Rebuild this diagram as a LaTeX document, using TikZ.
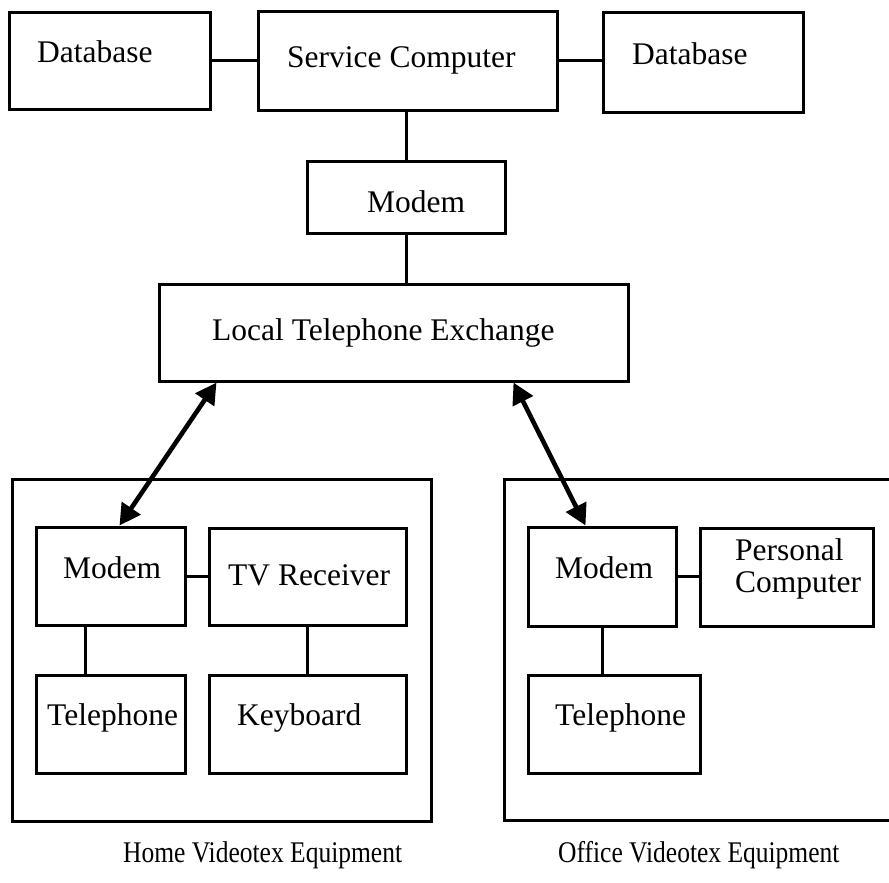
\documentclass[tikz,border=0pt]{standalone}
\usepackage{fontspec}
\setmainfont{Liberation Serif}
\usetikzlibrary{arrows.meta}

\begin{document}
\begin{tikzpicture}[x=1pt, y=-1pt,
  box/.style={draw, line width=3pt, rectangle, inner sep=0pt},
  frame/.style={draw, line width=3pt},
  wire/.style={line width=3pt},
  txt/.style={font=\fontsize{31.5pt}{32pt}\selectfont, inner sep=0pt, anchor=base west},
  caption/.style={font=\fontsize{30pt}{31pt}\selectfont, inner sep=0pt, anchor=base west, xscale=0.85},
  link/.style={line width=4.6pt, {Triangle[length=21pt,width=22pt]}-{Triangle[length=21pt,width=22pt]}}
]
\useasboundingbox (0,0) rectangle (889,883);

% --- host side ---
\node[box, minimum width=201pt, minimum height=97pt] (dbl) at (109.5,61) {};
\node[box, minimum width=299pt, minimum height=98pt] (sc) at (407.5,61) {};
\node[box, minimum width=200pt, minimum height=99pt] (dbr) at (703,62.5) {};
\node[box, minimum width=198pt, minimum height=72pt] (hostmodem) at (406,197) {};
\node[box, minimum width=469pt, minimum height=97pt] (lte) at (393.5,332.5) {};

\node[txt] (tdbl) at (37,63) {Database};
\node[txt] (tsc) at (287,67) {Service Computer};
\node[txt] (tdbr) at (632,65) {Database};
\node[txt] (thm) at (367,212) {Modem};
\node[txt] (tlte) at (212,340) {Local Telephone Exchange};

\draw[wire] (dbl.east) -- (dbl.east -| sc.west);
\draw[wire] (sc.east) -- (sc.east -| dbr.west);
\draw[wire] (hostmodem.north |- sc.south) -- (hostmodem.north);
\draw[wire] (hostmodem.south) -- (hostmodem.south |- lte.north);

% --- home equipment ---
\draw[frame] (12,479) rectangle (431,821);
\node[box, minimum width=149pt, minimum height=98pt] (hmodem) at (110.5,576) {};
\node[box, minimum width=197pt, minimum height=97pt] (tv) at (307.5,576.5) {};
\node[box, minimum width=149pt, minimum height=98pt] (htel) at (110.5,724) {};
\node[box, minimum width=197pt, minimum height=98pt] (kb) at (307.5,724) {};

\node[txt] (thmodem) at (63,578) {Modem};
\node[txt] (ttv) at (228,585) {TV Receiver};
\node[txt] (thtel) at (47,725) {Telephone};
\node[txt] (tkb) at (237,725) {Keyboard};

\draw[wire] (hmodem.east) -- (hmodem.east -| tv.west);
\coordinate (hmdrop) at ([xshift=51pt]hmodem.south west);
\draw[wire] (hmdrop) -- (hmdrop |- htel.north);
\draw[wire] (tv.south) -- (tv.south |- kb.north);

% --- office equipment (frame runs past the right edge) ---
\draw[frame] (895,479) -- (504,479) -- (504,820) -- (895,820);
\node[box, minimum width=148pt, minimum height=99pt] (omodem) at (602,576.5) {};
\node[box, minimum width=173pt, minimum height=98pt] (pc) at (786.5,577) {};
\node[box, minimum width=172pt, minimum height=98pt] (otel) at (614,724) {};

\node[txt] (tomodem) at (555,578) {Modem};
\node[txt] (tpc1) at (735,560) {Personal};
\node[txt] (tpc2) at (735,592) {Computer};
\node[txt] (totel) at (555,725) {Telephone};

\draw[wire] (omodem.east) -- (omodem.east -| pc.west);
\draw[wire] (omodem.south) -- (omodem.south |- otel.north);

% --- exchange links ---
\draw[link] ([xshift=59pt]lte.south west) -- ([xshift=85pt]hmodem.north west);
\draw[link] ([xshift=356pt]lte.south west) -- ([xshift=59pt]omodem.north west);

% --- captions ---
\node[caption] (chome) at (123,862) {Home Videotex Equipment};
\node[caption] (coffice) at (558,862) {Office Videotex Equipment};
\end{tikzpicture}
\end{document}
